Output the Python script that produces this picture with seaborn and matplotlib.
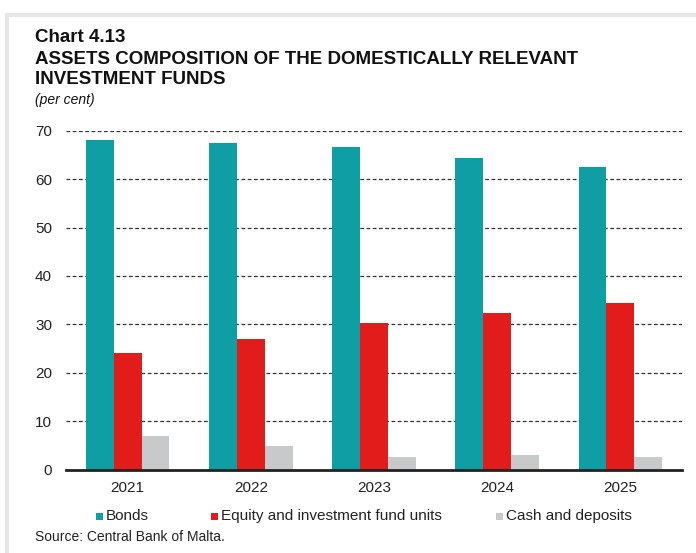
import matplotlib
matplotlib.use("Agg")
import matplotlib.pyplot as plt
import seaborn as sns
import pandas as pd
from matplotlib.patches import Rectangle
from matplotlib.lines import Line2D

years = ["2021", "2022", "2023", "2024", "2025"]
bonds = [68.1, 67.4, 66.6, 64.3, 62.6]
equity = [24.2, 26.9, 30.2, 32.4, 34.4]
cash = [6.9, 4.9, 2.6, 3.0, 2.6]
series_names = ["Bonds", "Equity and investment fund units", "Cash and deposits"]
colors = ["#0F9EA4", "#E21B1B", "#C8C9CA"]
yticks = [0, 10, 20, 30, 40, 50, 60, 70]

df = pd.DataFrame({
    "year": years * 3,
    "value": bonds + equity + cash,
    "series": [series_names[0]] * 5 + [series_names[1]] * 5 + [series_names[2]] * 5,
})

sns.set_style("white")
plt.rcParams["font.family"] = ["Liberation Sans", "DejaVu Sans"]

W, H = 696, 553
fig = plt.figure(figsize=(W / 100, H / 100), dpi=100)
ax = fig.add_axes([66 / W, 1 - 469.7 / H, (682 - 66) / W, (469.7 - 130.7) / H])

sns.barplot(data=df, x="year", y="value", hue="series", palette=colors,
            width=0.68, gap=0, saturation=1, linewidth=0, ax=ax, legend=False)

ax.set_ylim(0, 70)
ax.set_xlim(-0.5, 4.5)
ax.set_yticks(yticks)
ax.set_yticklabels([str(t) for t in yticks], fontsize=11, color="#222222")
ax.tick_params(axis="x", labelsize=11, colors="#222222", length=0, pad=8)
ax.tick_params(axis="y", length=0, pad=10)
ax.set_xlabel("")
ax.set_ylabel("")
for s in ["top", "right", "left"]:
    ax.spines[s].set_visible(False)
ax.spines["bottom"].set_color("#222222")
ax.spines["bottom"].set_linewidth(2)
ax.yaxis.grid(True, linestyle=(0, (3, 2)), color="#333333", linewidth=0.9)
ax.set_axisbelow(True)

# frame lines (gray border at left and top)
fig.add_artist(Line2D([7 / W, 7 / W], [0, 1 - 15 / H], transform=fig.transFigure,
                      color="#E6E6E6", linewidth=3))
fig.add_artist(Line2D([7 / W, 1], [1 - 15 / H, 1 - 15 / H], transform=fig.transFigure,
                      color="#E6E6E6", linewidth=3))

tx = 35 / W
fig.text(tx, 1 - 38 / H, "Chart 4.13", fontsize=13.5, fontweight="bold", va="center", ha="left", color="#111111")
fig.text(tx, 1 - 59 / H, "ASSETS COMPOSITION OF THE DOMESTICALLY RELEVANT", fontsize=13.5,
         fontweight="bold", va="center", ha="left", color="#111111")
fig.text(tx, 1 - 80 / H, "INVESTMENT FUNDS", fontsize=13.5, fontweight="bold", va="center", ha="left", color="#111111")
fig.text(tx, 1 - 100 / H, "(per cent)", fontsize=10, fontstyle="italic", va="center", ha="left", color="#111111")

# legend
leg_x = [96, 211, 496]
for x, name, c in zip(leg_x, series_names, colors):
    fig.add_artist(Rectangle((x / W, 1 - 520 / H), 7 / W, 7 / H, transform=fig.transFigure,
                             facecolor=c, edgecolor="none"))
    fig.text((x + 10) / W, 1 - 516 / H, name, fontsize=11, va="center", ha="left", color="#222222")

fig.text(tx, 1 - 537 / H, "Source: Central Bank of Malta.", fontsize=10, va="center", ha="left", color="#222222")

fig.savefig("out.png", dpi=100, facecolor="white")
